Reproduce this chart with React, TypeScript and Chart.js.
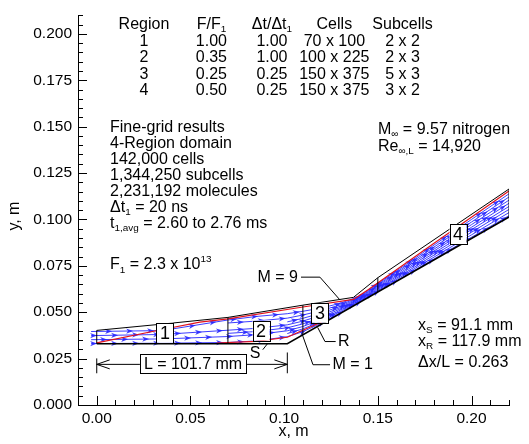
import { useEffect, useRef } from "react";
import { Chart, registerables } from "chart.js";

Chart.register(...registerables);

type Pt = [number, number];
type Seg = [string, number]; // 0 = normal, 1 = subscript, 2 = superscript

const FONT = "'Liberation Sans', Arial, Helvetica, sans-serif";
const TEXT_SIZE = 16;
const TICK_SIZE = 15.5;
const BLUE = "rgba(40, 40, 255, 0.9)";
const RED = "#e3121b";

// ---- axes ----
const xRange: Pt = [-0.01, 0.22];
const yRange: Pt = [0, 0.21];
const xMajorTicks = [0, 0.05, 0.1, 0.15, 0.2];
const yMajorTicks = [0, 0.025, 0.05, 0.075, 0.1, 0.125, 0.15, 0.175, 0.2];
const xMinorStep = 0.01;
const yMinorStep = 0.005;

// ---- body and domain geometry (m) ----
const wallLine: Pt[] = [[0, 0.033], [0.1017, 0.033], [0.22, 0.1013]];
const outerLine: Pt[] = [
  [0, 0.0402], [0.035, 0.0436], [0.07, 0.0472], [0.11, 0.0538],
  [0.137, 0.058], [0.15, 0.0686], [0.22, 0.1164],
];
// region interfaces: x, lower y, upper y
const interfaceX = [0, 0.07, 0.11, 0.15, 0.22];
const interfaceLow = [0.033, 0.033, 0.0378, 0.0609, 0.1013];
const interfaceHigh = [0.0402, 0.0472, 0.0538, 0.0686, 0.1164];

// ---- shocks ----
const leadingShock: Pt[] = [
  [0, 0.0335], [0.035, 0.0407], [0.055, 0.0447], [0.07, 0.0464], [0.11, 0.0528],
  [0.137, 0.0569], [0.145, 0.0622], [0.18, 0.0872], [0.22, 0.1153],
];
const separationShock: Pt[] = [
  [0.064, 0.0334], [0.085, 0.0343], [0.1017, 0.0365], [0.11, 0.0403], [0.12, 0.0447],
];

// ---- streamtraces (null = trace not yet seeded at that station) ----
const streamX = [-0.003, 0.035, 0.07, 0.085, 0.1017, 0.11, 0.12, 0.13, 0.14, 0.15, 0.165, 0.18, 0.2, 0.22];
const stream1 = [0.0331, 0.0333, 0.0337, 0.0345, 0.0368, 0.0395, 0.0442, 0.0497, 0.0554, 0.0612, 0.0699, 0.0787, 0.0904, 0.102];
const stream2 = [null, null, null, null, 0.0385, 0.041, 0.0452, 0.0504, 0.0558, 0.0617, 0.0707, 0.0797, 0.0917, 0.1037];
const stream3 = [0.0352, 0.0356, 0.0369, 0.0379, 0.04, 0.0423, 0.0462, 0.0511, 0.0562, 0.0623, 0.0715, 0.0808, 0.0931, 0.1054];
const stream4 = [null, null, 0.0386, 0.0396, 0.0416, 0.0437, 0.0473, 0.0518, 0.0567, 0.0629, 0.0724, 0.0819, 0.0945, 0.107];
const stream5 = [0.0374, 0.038, 0.0403, 0.0413, 0.0432, 0.0452, 0.0484, 0.0525, 0.0571, 0.0635, 0.0732, 0.083, 0.0958, 0.1087];
const stream6 = [null, null, null, null, 0.0448, 0.0467, 0.0496, 0.0532, 0.0576, 0.0641, 0.0741, 0.084, 0.0972, 0.1104];
const stream7 = [null, null, 0.0442, 0.0452, 0.0468, 0.0485, 0.0509, 0.054, 0.058, 0.0647, 0.0749, 0.0851, 0.0986, 0.1121];
const stream8 = [0.0396, 0.0401, 0.0458, 0.0477, 0.0492, 0.0505, 0.0523, 0.0548, 0.0585, 0.0653, 0.0757, 0.0862, 0.1, 0.1138];
const streams = [stream1, stream2, stream3, stream4, stream5, stream6, stream7, stream8];

// ---- leaders and dimension ----
const leaderM9: Pt[] = [[0.109, 0.0689], [0.1191, 0.0689], [0.1298, 0.0566]];
const leaderM1: Pt[] = [[0.1245, 0.0217], [0.1154, 0.0217], [0.1095, 0.0385]];
const leaderR: Pt[] = [[0.1275, 0.0342], [0.1218, 0.0342], [0.1179, 0.0418]];
const leaderS: Pt[] = [[0.0886, 0.0298], [0.0911, 0.033]];
const dimLine: Pt[] = [[0, 0.0219], [0.1017, 0.0219]];
const dimExtLeft: Pt[] = [[0, 0.0171], [0, 0.0251]];
const dimExtRight: Pt[] = [[0.1017, 0.0171], [0.1017, 0.0283]];

// ---- table ----
const tableHeader: Seg[][] = [
  [["Region", 0]],
  [["F/F", 0], ["1", 1]],
  [["\u0394t/\u0394t", 0], ["1", 1]],
  [["Cells", 0]],
  [["Subcells", 0]],
];
const tableRegion = ["1", "2", "3", "4"];
const tableF = ["1.00", "0.35", "0.25", "0.50"];
const tableDt = ["1.00", "1.00", "0.25", "0.25"];
const tableCells = ["70 x 100", "100 x 225", "150 x 375", "150 x 375"];
const tableSubcells = ["2 x 2", "2 x 3", "5 x 3", "3 x 2"];
const tableColX = [0.0252, 0.0612, 0.0935, 0.1268, 0.1632];
const tableRowY = [0.2052, 0.1961, 0.187, 0.1782, 0.1694];

// ---- text blocks ----
const infoLines: Seg[][] = [
  [["Fine-grid results", 0]],
  [["4-Region domain", 0]],
  [["142,000 cells", 0]],
  [["1,344,250 subcells", 0]],
  [["2,231,192 molecules", 0]],
  [["\u0394t", 0], ["1", 1], [" = 20 ns", 0]],
  [["t", 0], ["1,avg", 1], [" = 2.60 to 2.76 ms", 0]],
];
const infoX = 0.0071;
const infoY = [0.1496, 0.1410, 0.1324, 0.1238, 0.1152, 0.1066, 0.098];
const fluxLine: Seg[] = [["F", 0], ["1", 1], [" = 2.3 x 10", 0], ["13", 2]];
const fluxPos: Pt = [0.0071, 0.0755];

const flowLines: Seg[][] = [
  [["M", 0], ["\u221E", 1], [" = 9.57 nitrogen", 0]],
  [["Re", 0], ["\u221E,L", 1], [" = 14,920", 0]],
];
const flowX = 0.1501;
const flowY = [0.1485, 0.1394];

const resultLines: Seg[][] = [
  [["x", 0], ["S", 1], [" = 91.1 mm", 0]],
  [["x", 0], ["R", 1], [" = 117.9 mm", 0]],
  [["\u0394x/L = 0.263", 0]],
];
const resultX = 0.1715;
const resultY = [0.0428, 0.0342, 0.023];

// label text, anchor (data), alignment
const plainLabels: { text: string; at: Pt; align: CanvasTextAlign }[] = [
  { text: "M = 9", at: [0.1074, 0.0689], align: "right" },
  { text: "M = 1", at: [0.1258, 0.0217], align: "left" },
  { text: "R", at: [0.1287, 0.0342], align: "left" },
  { text: "S", at: [0.0845, 0.0278], align: "center" },
];
const regionBoxes: { text: string; at: Pt }[] = [
  { text: "1", at: [0.0364, 0.039] },
  { text: "2", at: [0.0877, 0.0401] },
  { text: "3", at: [0.1191, 0.0497] },
  { text: "4", at: [0.1928, 0.0919] },
];
const lengthLabel = { text: "L = 101.7 mm", at: [0.0514, 0.0224] as Pt };

const toXY = (pts: Pt[]) => pts.map(([x, y]) => ({ x, y }));

function fontFor(kind: number, size: number) {
  const s = kind === 0 ? size : size * 0.62;
  return `${s}px ${FONT}`;
}

function drawRich(ctx: CanvasRenderingContext2D, segs: Seg[], x: number, y: number, size: number, align: CanvasTextAlign) {
  const widths = segs.map(([t, k]) => {
    ctx.font = fontFor(k, size);
    return ctx.measureText(t).width;
  });
  const total = widths.reduce((a, b) => a + b, 0);
  let cx = align === "center" ? x - total / 2 : align === "right" ? x - total : x;
  ctx.textAlign = "left";
  ctx.textBaseline = "middle";
  segs.forEach(([t, k], i) => {
    ctx.font = fontFor(k, size);
    const dy = k === 1 ? size * 0.32 : k === 2 ? -size * 0.38 : 0;
    ctx.fillText(t, cx, y + dy);
    cx += widths[i];
  });
  return total;
}

// arrowheads spaced along each streamtrace, in pixel space
const streamArrows = {
  id: "streamArrows",
  afterDatasetDraw(chart: any, args: any) {
    const ds = chart.data.datasets[args.index];
    if (!ds.label || !String(ds.label).startsWith("stream")) return;
    const pts = args.meta.data
      .filter((p: any) => !p.skip && Number.isFinite(p.x) && Number.isFinite(p.y))
      .map((p: any) => ({ x: p.x, y: p.y }));
    const ctx: CanvasRenderingContext2D = chart.ctx;
    const gap = 21;
    let next = 6 + (args.index % 4) * 5;
    let acc = 0;
    ctx.save();
    ctx.fillStyle = BLUE;
    for (let i = 1; i < pts.length; i++) {
      const a = pts[i - 1];
      const b = pts[i];
      const dx = b.x - a.x;
      const dy = b.y - a.y;
      const len = Math.hypot(dx, dy);
      if (len === 0) continue;
      const ux = dx / len;
      const uy = dy / len;
      while (next <= acc + len) {
        const t = (next - acc) / len;
        const tx = a.x + dx * t;
        const ty = a.y + dy * t;
        ctx.beginPath();
        ctx.moveTo(tx, ty);
        ctx.lineTo(tx - ux * 7 - uy * 2.6, ty - uy * 7 + ux * 2.6);
        ctx.lineTo(tx - ux * 5, ty - uy * 5);
        ctx.lineTo(tx - ux * 7 + uy * 2.6, ty - uy * 7 - ux * 2.6);
        ctx.closePath();
        ctx.fill();
        next += gap;
      }
      acc += len;
    }
    ctx.restore();
  },
};

const decorations = {
  id: "decorations",
  afterDatasetsDraw(chart: any) {
    const ctx: CanvasRenderingContext2D = chart.ctx;
    const xs = chart.scales.x;
    const ys = chart.scales.y;
    const X = (v: number) => xs.getPixelForValue(v);
    const Y = (v: number) => ys.getPixelForValue(v);
    const area = chart.chartArea;
    ctx.save();
    ctx.fillStyle = "#000";
    ctx.strokeStyle = "#000";
    ctx.lineWidth = 1;

    // inward tick marks
    ctx.beginPath();
    for (let v = xRange[0]; v <= xRange[1] + 1e-9; v += xMinorStep) {
      const major = xMajorTicks.some((m) => Math.abs(m - v) < 1e-6);
      const px = Math.round(X(v)) + 0.5;
      ctx.moveTo(px, area.bottom);
      ctx.lineTo(px, area.bottom - (major ? 9 : 5));
    }
    for (let v = yRange[0]; v <= yRange[1] + 1e-9; v += yMinorStep) {
      const major = yMajorTicks.some((m) => Math.abs(m - v) < 1e-6);
      const py = Math.round(Y(v)) + 0.5;
      ctx.moveTo(area.left, py);
      ctx.lineTo(area.left + (major ? 9 : 5), py);
    }
    ctx.stroke();

    // dimension arrowheads
    const dy0 = Y(dimLine[0][1]);
    const dxL = X(dimLine[0][0]);
    const dxR = X(dimLine[1][0]);
    ctx.beginPath();
    ctx.moveTo(dxL + 13, dy0 - 4.5);
    ctx.lineTo(dxL, dy0);
    ctx.lineTo(dxL + 13, dy0 + 4.5);
    ctx.moveTo(dxR - 13, dy0 - 4.5);
    ctx.lineTo(dxR, dy0);
    ctx.lineTo(dxR - 13, dy0 + 4.5);
    ctx.stroke();

    // length label box
    ctx.font = `${TEXT_SIZE}px ${FONT}`;
    const lw = ctx.measureText(lengthLabel.text).width;
    const lx = X(lengthLabel.at[0]);
    const ly = Y(lengthLabel.at[1]);
    ctx.fillStyle = "#fff";
    ctx.fillRect(lx - lw / 2 - 4, ly - 9.5, lw + 8, 19);
    ctx.strokeRect(Math.round(lx - lw / 2 - 4) + 0.5, Math.round(ly - 9.5) + 0.5, Math.round(lw + 8), 19);
    ctx.fillStyle = "#000";
    ctx.textAlign = "center";
    ctx.textBaseline = "middle";
    ctx.fillText(lengthLabel.text, lx, ly + 1);

    // region number boxes
    regionBoxes.forEach((b) => {
      const bx = X(b.at[0]);
      const by = Y(b.at[1]);
      ctx.font = `${TEXT_SIZE + 2}px ${FONT}`;
      ctx.fillStyle = "#fff";
      ctx.fillRect(bx - 8.5, by - 10, 17, 20);
      ctx.strokeRect(Math.round(bx - 8.5) + 0.5, Math.round(by - 10) + 0.5, 17, 20);
      ctx.fillStyle = "#000";
      ctx.textAlign = "center";
      ctx.textBaseline = "middle";
      ctx.fillText(b.text, bx, by + 1);
    });

    // plain labels
    ctx.font = `${TEXT_SIZE}px ${FONT}`;
    plainLabels.forEach((l) => {
      ctx.textAlign = l.align;
      ctx.textBaseline = "middle";
      ctx.fillText(l.text, X(l.at[0]), Y(l.at[1]));
    });

    // table
    tableHeader.forEach((segs, c) => drawRich(ctx, segs, X(tableColX[c]), Y(tableRowY[0]), TEXT_SIZE, "center"));
    const cols = [tableRegion, tableF, tableDt, tableCells, tableSubcells];
    cols.forEach((col, c) =>
      col.forEach((t, r) => drawRich(ctx, [[t, 0]], X(tableColX[c]), Y(tableRowY[r + 1]), TEXT_SIZE, "center"))
    );

    // text blocks
    infoLines.forEach((segs, i) => drawRich(ctx, segs, X(infoX), Y(infoY[i]), TEXT_SIZE, "left"));
    drawRich(ctx, fluxLine, X(fluxPos[0]), Y(fluxPos[1]), TEXT_SIZE, "left");
    flowLines.forEach((segs, i) => drawRich(ctx, segs, X(flowX), Y(flowY[i]), TEXT_SIZE, "left"));
    resultLines.forEach((segs, i) => drawRich(ctx, segs, X(resultX), Y(resultY[i]), TEXT_SIZE, "left"));

    // axis titles
    ctx.font = `${TEXT_SIZE}px ${FONT}`;
    ctx.textAlign = "center";
    ctx.textBaseline = "middle";
    ctx.fillText("x, m", (area.left + area.right) / 2, area.bottom + 27);
    ctx.save();
    ctx.translate(15, Y(0.1018));
    ctx.rotate(-Math.PI / 2);
    ctx.fillText("y, m", 0, 0);
    ctx.restore();

    ctx.restore();
  },
};

function line(label: string, pts: (number | null)[][], color: string, width: number) {
  return {
    label,
    data: pts.map(([x, y]) => ({ x, y })),
    showLine: true,
    borderColor: color,
    backgroundColor: color,
    borderWidth: width,
    pointRadius: 0,
    fill: false,
    tension: 0,
  };
}

export default function App() {
  const ref = useRef<HTMLCanvasElement | null>(null);

  useEffect(() => {
    if (!ref.current) return;
    const datasets: any[] = [];
    // black outlines first so they sit on top
    datasets.push(line("wall", wallLine, "#000", 1.5));
    datasets.push(line("outer", outerLine, "#000", 1));
    interfaceX.forEach((x, i) =>
      datasets.push(line(`interface${i}`, [[x, interfaceLow[i]], [x, interfaceHigh[i]]], "#000", 1))
    );
    datasets.push(line("leaderM9", leaderM9, "#000", 1));
    datasets.push(line("leaderM1", leaderM1, "#000", 1));
    datasets.push(line("leaderR", leaderR, "#000", 1));
    datasets.push(line("leaderS", leaderS, "#000", 1));
    datasets.push(line("dim", dimLine, "#000", 1));
    datasets.push(line("dimL", dimExtLeft, "#000", 1));
    datasets.push(line("dimR", dimExtRight, "#000", 1));
    datasets.push(line("shock", leadingShock, RED, 1.2));
    datasets.push(line("sepShock", separationShock, RED, 1.2));
    streams.forEach((ys, i) =>
      datasets.push(
        line(
          `stream${i + 1}`,
          streamX.map((x, j) => [x, ys[j]]).filter(([, y]) => y !== null),
          BLUE,
          1
        )
      )
    );

    const chart = new Chart(ref.current, {
      type: "scatter",
      data: { datasets },
      options: {
        responsive: false,
        animation: false,
        devicePixelRatio: 1,
        layout: { padding: { top: 12, right: 20, left: 0, bottom: 0 } },
        plugins: { legend: { display: false }, tooltip: { enabled: false } },
        scales: {
          x: {
            type: "linear",
            min: xRange[0],
            max: xRange[1],
            afterBuildTicks: (s: any) => {
              s.ticks = xMajorTicks.map((v) => ({ value: v }));
            },
            afterFit: (s: any) => {
              s.height = 39;
            },
            ticks: {
              autoSkip: false,
              maxRotation: 0,
              padding: 4,
              color: "#000",
              font: { family: FONT, size: TICK_SIZE },
              callback: (v: any) => Number(v).toFixed(2),
            },
            grid: { display: false, drawTicks: false },
            border: { display: true, color: "#000", width: 1 },
          },
          y: {
            type: "linear",
            min: yRange[0],
            max: yRange[1],
            afterBuildTicks: (s: any) => {
              s.ticks = yMajorTicks.map((v) => ({ value: v }));
            },
            afterFit: (s: any) => {
              s.width = 78;
            },
            ticks: {
              autoSkip: false,
              padding: 6,
              color: "#000",
              font: { family: FONT, size: TICK_SIZE },
              callback: (v: any) => Number(v).toFixed(3),
            },
            grid: { display: false, drawTicks: false },
            border: { display: true, color: "#000", width: 1 },
          },
        },
      },
      plugins: [streamArrows, decorations],
    });
    return () => chart.destroy();
  }, []);

  return (
    <div style={{ position: "fixed", left: 0, top: 0, width: 529, height: 444, background: "#fff" }}>
      <canvas ref={ref} width={529} height={444} style={{ display: "block" }} />
    </div>
  );
}
